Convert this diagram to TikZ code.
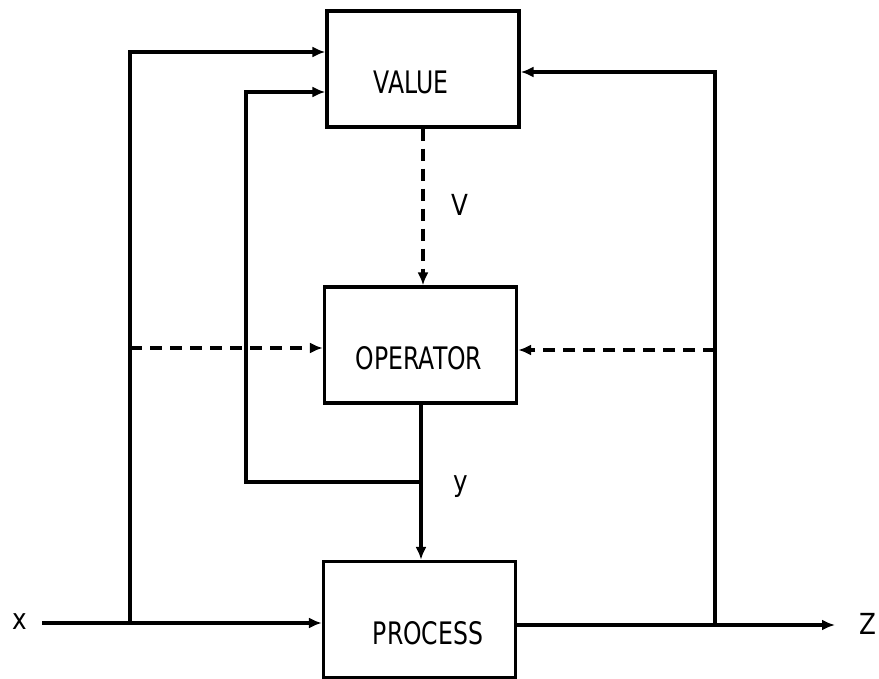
\documentclass[tikz,border=0pt]{standalone}
\usepackage{fontspec}
\setmainfont{DejaVu Sans}
\usetikzlibrary{arrows.meta}
\newcommand\narrowlbl[1]{\scalebox{0.76}[1]{#1}}
\newcommand\sigtxt[1]{\scalebox{0.85}[1]{#1}}
\begin{document}
\begin{tikzpicture}[x=1pt,y=-1pt,
  box/.style={draw,line width=3.2pt,minimum width=192pt,minimum height=116pt,inner sep=0pt},
  wire/.style={line width=3.2pt},
  arr/.style={wire,-{Latex[length=13pt,width=11pt]}},
  darr/.style={arr,dash pattern=on 12pt off 8pt},
  lbl/.style={inner sep=0pt,font=\fontsize{31}{36}\selectfont},
  sig/.style={inner sep=0pt,font=\fontsize{29}{34}\selectfont}]
\useasboundingbox (0,0) rectangle (879,679);
% boxes
\node[box] (value) at (423,69) {};
\node[box] (operator) at (420.5,345) {};
\node[box] (process) at (419.5,619.5) {};
\node[lbl] (vtext) at (411,82) {\narrowlbl{VALUE}};
\node[lbl] (otext) at (419,358) {\narrowlbl{OPERATOR}};
\node[lbl] (ptext) at (428,633) {\narrowlbl{PROCESS}};
% signal labels
\node[sig] (xlab) at (20,622) {\sigtxt{x}};
\node[sig] (zlab) at (868,624) {\sigtxt{Z}};
\node[sig] (vlab) at (460,205) {\sigtxt{V}};
\node[sig] (ylab) at (461,487) {\sigtxt{y}};
% coordinates
\coordinate (xin) at (42,623);
\coordinate (jx) at (130,623);
\coordinate (ltop) at (130,52);
\coordinate (ldash) at (130,348);
\coordinate (jy) at (421,482);
\coordinate (itop) at (246,92);
\coordinate (jz) at (715,625);
\coordinate (rtop) at (715,72);
\coordinate (rdash) at (715,350);
\coordinate (zout) at (835,625);
% input x
\draw[arr] (xin) -- (process.west |- xin);
% left feedforward to VALUE
\draw[arr] (jx) -- (ltop) -- (value.west |- ltop);
% dashed to OPERATOR from left
\draw[darr] (ldash) -- (operator.west |- ldash);
% V from VALUE to OPERATOR
\draw[darr] (value.south -| 423,0) -- (operator.north -| 423,0);
% y from OPERATOR to PROCESS
\draw[arr] (operator.south -| jy) -- (process.north -| jy);
% y back to VALUE
\draw[arr] (jy) -| (itop) -- (value.west |- itop);
% output z
\draw[arr] (process.east |- zout) -- (zout);
% right feedback to VALUE
\draw[arr] (jz) -- (rtop) -- (value.east |- rtop);
% right dashed to OPERATOR
\draw[darr] (rdash) -- (operator.east |- rdash);
\end{tikzpicture}
\end{document}
